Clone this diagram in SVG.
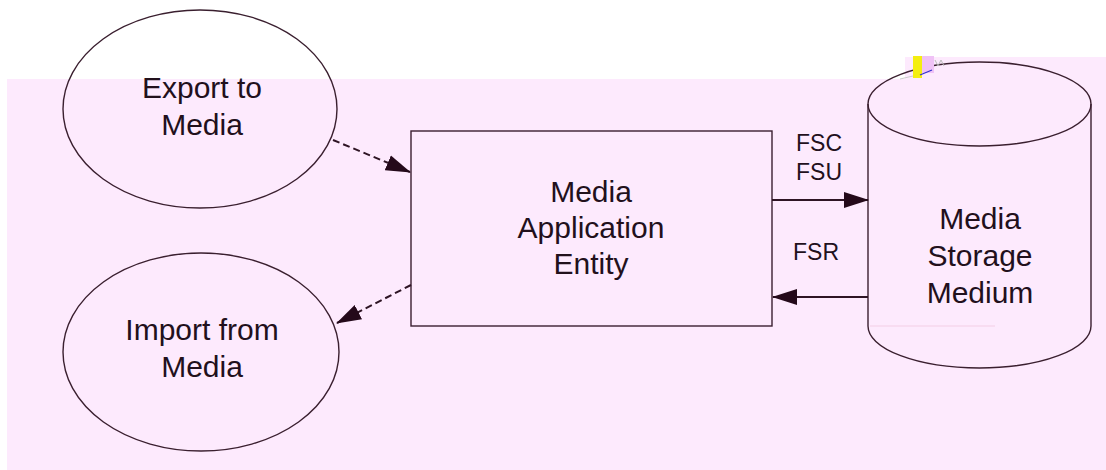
<svg xmlns="http://www.w3.org/2000/svg" width="1106" height="470" viewBox="0 0 1106 470">
<style>
.shape{fill:none;stroke:#3a1f2f;stroke-width:1.4}
.lbl{font-family:"Liberation Sans",Arial,sans-serif;font-size:30px;fill:#22101c;text-anchor:middle}
.sm{font-family:"Liberation Sans",Arial,sans-serif;font-size:23px;fill:#22101c;text-anchor:middle}
.conn{stroke:#2e1424;stroke-width:1.8;fill:none}
.dash{stroke-dasharray:7 4;stroke-width:2}
</style>
<defs>
<marker id="ah" markerWidth="25" markerHeight="18" refX="24" refY="9" orient="auto" markerUnits="userSpaceOnUse">
<path d="M0,1 L25,9 L0,17 Z" fill="#24091a"/>
</marker>
</defs>
<rect x="0" y="0" width="1106" height="470" fill="#ffffff"/>
<rect x="7" y="79" width="1099" height="391" fill="#fdeafd"/>
<rect x="905" y="57" width="201" height="22" fill="#fdeafd"/>
<g id="export">
<ellipse class="shape" cx="200" cy="109" rx="137" ry="99"/>
<text class="lbl" x="202" y="98">Export to</text>
<text class="lbl" x="202" y="135">Media</text>
</g>
<g id="import">
<ellipse class="shape" cx="201" cy="352" rx="138" ry="99"/>
<text class="lbl" x="202" y="340">Import from</text>
<text class="lbl" x="202" y="377">Media</text>
</g>
<g id="mae">
<rect class="shape" x="411" y="131" width="361" height="195"/>
<text class="lbl" x="591" y="202">Media</text>
<text class="lbl" x="591" y="238">Application</text>
<text class="lbl" x="591" y="274">Entity</text>
</g>
<g id="storage">
<path class="shape" d="M868,104 L868,326 A111.5,42 0 0 0 1091,326 L1091,104"/>
<ellipse class="shape" cx="979.5" cy="104" rx="111.5" ry="42"/>
<line x1="870" y1="326" x2="995" y2="326" stroke="#f3cde6" stroke-width="1.2"/>
<text class="lbl" x="980" y="229">Media</text>
<text class="lbl" x="980" y="266">Storage</text>
<text class="lbl" x="980" y="303">Medium</text>
<rect x="913" y="56" width="9" height="22" fill="#f4ee10"/>
<rect x="922" y="56" width="12" height="17" fill="#f0c2f6"/>
<line x1="920" y1="75" x2="932" y2="70" stroke="#3030d0" stroke-width="1.2"/>
<line x1="900" y1="79" x2="913" y2="76" stroke="#cccccc" stroke-width="1"/>
<path d="M935,60 l3,6 l3,-6 l3,6" fill="none" stroke="#bbbbbb" stroke-width="1"/>
</g>
<g id="connectors">
<line class="conn dash" x1="333" y1="140" x2="410" y2="172" marker-end="url(#ah)"/>
<line class="conn dash" x1="411" y1="285" x2="337" y2="323" marker-end="url(#ah)"/>
<line class="conn" x1="772" y1="200" x2="868" y2="200" marker-end="url(#ah)"/>
<line class="conn" x1="868" y1="297" x2="773" y2="297" marker-end="url(#ah)"/>
<text class="sm" x="819" y="151">FSC</text>
<text class="sm" x="819" y="180">FSU</text>
<text class="sm" x="816" y="260">FSR</text>
</g>
</svg>
